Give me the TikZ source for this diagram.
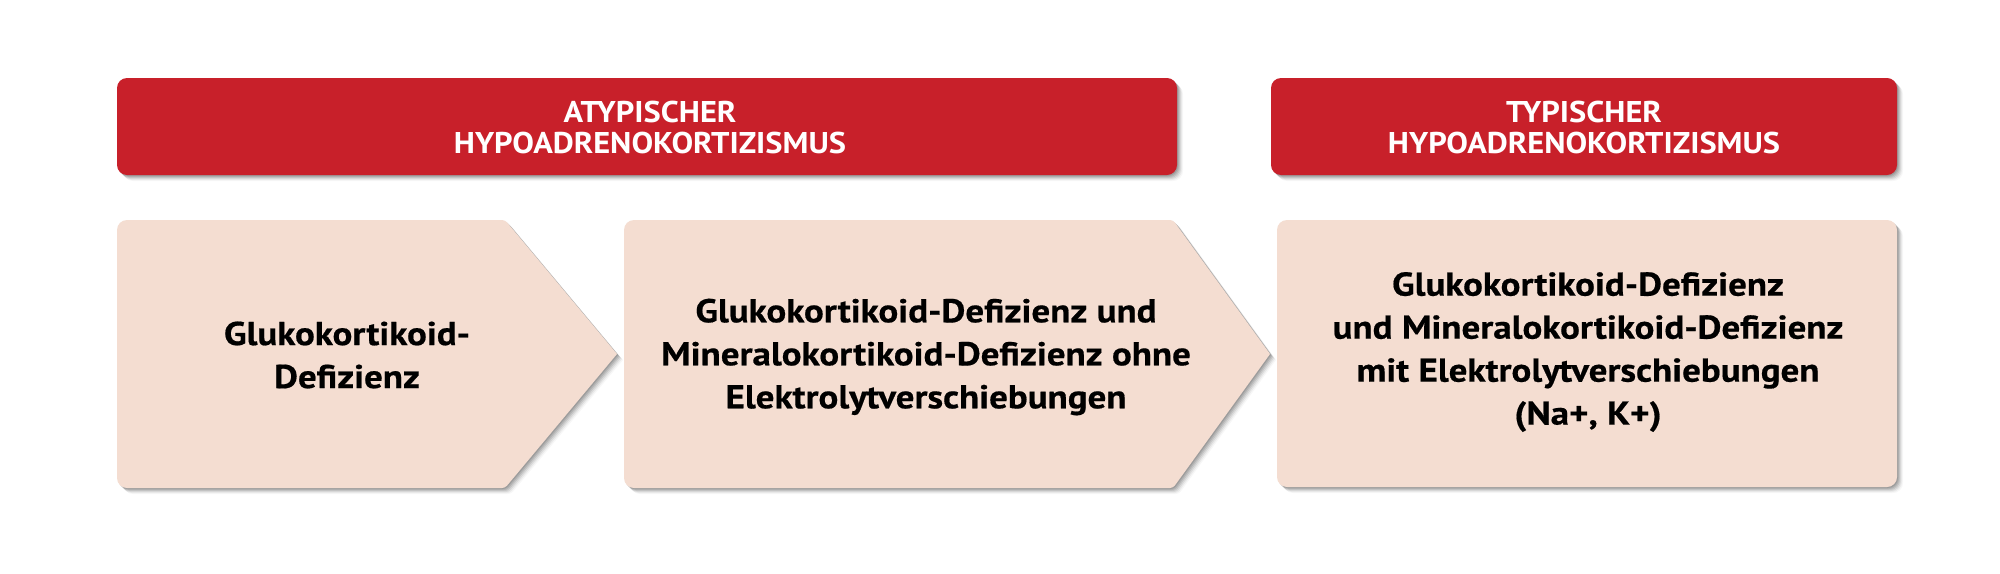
\documentclass[tikz,border=0pt]{standalone}
\usepackage{fontspec}
\setmainfont{PT Sans}
\newfontfamily\bodyfont{PT Sans}[FakeStretch=1.12,BoldFeatures={FakeBold=0.5}]
\newfontfamily\headfont{PT Sans}[FakeStretch=1.08]
\definecolor{hdred}{RGB}{200,32,42}
\definecolor{boxpink}{RGB}{244,221,209}
\newcommand\softshadow[1]{%
  \foreach \d/\o in {1/0.11,2/0.10,3/0.09,4/0.07,5/0.05,6/0.03}{%
    \fill[black,opacity=\o,xshift=\d*0.5pt,yshift=-\d*0.5pt] #1;}}
\begin{document}
\begin{tikzpicture}[x=0.5pt,y=-0.5pt,
  hdtext/.style={text=white,font=\headfont\bfseries\fontsize{15}{15.5}\selectfont,align=center,inner sep=0pt},
  bodytext/.style={text=black,font=\bodyfont\bfseries\fontsize{16.5}{21.5}\selectfont,align=center,inner sep=0pt}]
\useasboundingbox[fill=white] (0,0) rectangle (2000,573);
% paths
\def\pA{[rounded corners=5pt] (117,78) rectangle (1177,175)}
\def\pB{[rounded corners=5pt] (1271,78) rectangle (1897,175)}
\def\pC{(617,354) [rounded corners=1.5pt]-- (505,488) [rounded corners=5pt]-- (117,488) -- (117,220) [rounded corners=1.5pt]-- (505,220) [sharp corners]-- cycle}
\def\pD{(1270,354) [rounded corners=1.5pt]-- (1173,488) [rounded corners=5pt]-- (624,488) -- (624,220) [rounded corners=1.5pt]-- (1173,220) [sharp corners]-- cycle}
\def\pE{[rounded corners=5pt] (1277,220) rectangle (1897,487)}
\softshadow{\pA}\softshadow{\pB}\softshadow{\pC}\softshadow{\pD}\softshadow{\pE}
\fill[hdred] \pA;
\fill[hdred] \pB;
\fill[boxpink] \pC;
\fill[boxpink] \pD;
\fill[boxpink] \pE;
% texts
\node[hdtext] (h1) at (650,127) {ATYPISCHER\\HYPOADRENOKORTIZISMUS};
\node[hdtext] (h2) at (1584,127) {TYPISCHER\\HYPOADRENOKORTIZISMUS};
\node[bodytext] (b1) at (347,355) {Glukokortikoid-\\Defizienz};
\node[bodytext] (b2) at (926,357) {Glukokortikoid-Defizienz und\\Mineralokortikoid-Defizienz ohne\\Elektrolytverschiebungen};
\node[bodytext] (b3) at (1588,352) {Glukokortikoid-Defizienz\\und Mineralokortikoid-Defizienz\\mit Elektrolytverschiebungen\\(Na+, K+)};
\end{tikzpicture}
\end{document}
